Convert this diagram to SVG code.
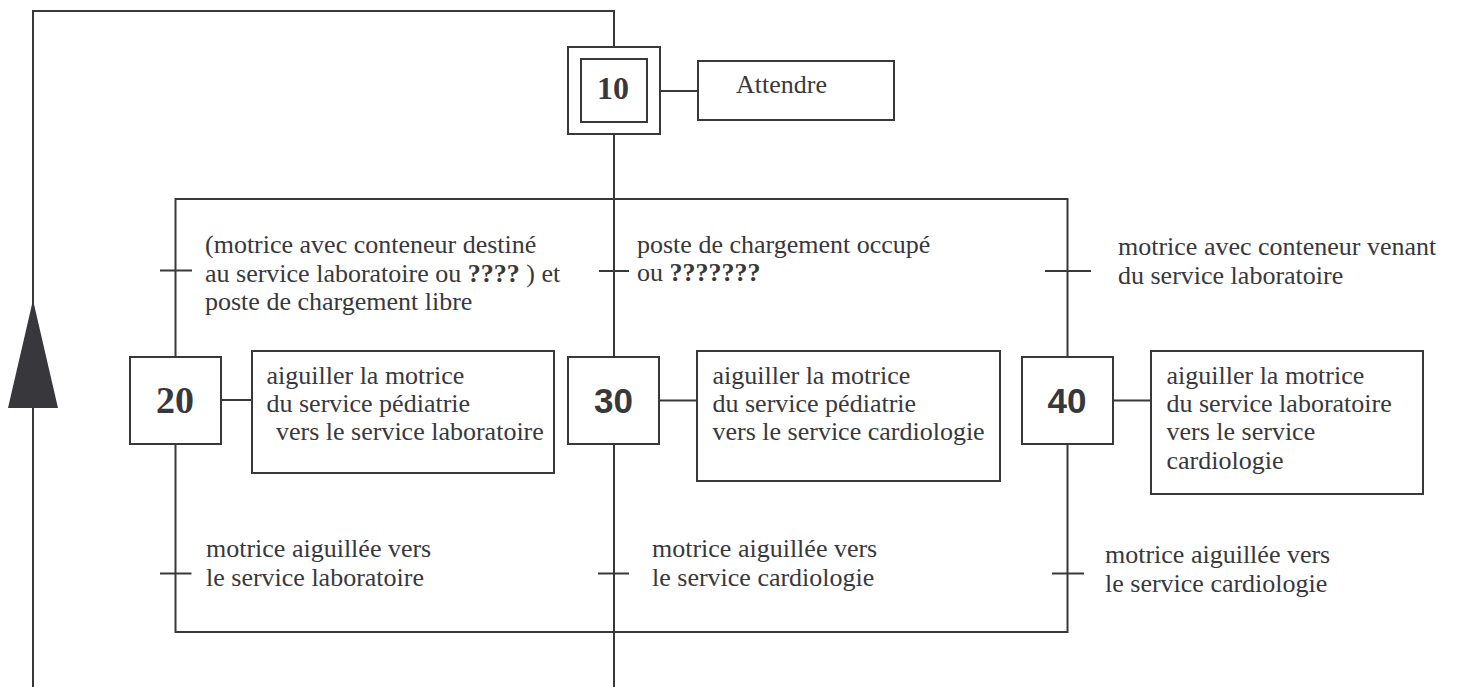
<svg xmlns="http://www.w3.org/2000/svg" width="1465" height="687" viewBox="0 0 1465 687">
<style>
.ln{stroke:#38383c;stroke-width:2;fill:none}
.bx{stroke:#38383c;stroke-width:2;fill:#fff}
.t{font-size:26px;fill:#38383c}
.b{font-weight:bold}
.ns{font-weight:bold;fill:#38383c;text-anchor:middle}
.nss{font-weight:bold;fill:#38383c;text-anchor:middle}
</style>
<rect width="1465" height="687" fill="#fff"/>
<g id="connectors">
  <polyline class="ln" points="33,687 33,11 614,11 614,47"/>
  <polygon points="33,300 8,408 58,408" fill="#38383c"/>
  <line class="ln" x1="614" y1="134" x2="614" y2="357"/>
  <line class="ln" x1="614" y1="444" x2="614" y2="687"/>
  <polyline class="ln" points="175.5,357 175.5,199 1067.5,199 1067.5,357"/>
  <polyline class="ln" points="175.5,444 175.5,632 1067.5,632 1067.5,444"/>
  <line class="ln" x1="660" y1="91" x2="698" y2="91"/>
  <line class="ln" x1="221" y1="400" x2="252" y2="400"/>
  <line class="ln" x1="659" y1="400.5" x2="697" y2="400.5"/>
  <line class="ln" x1="1113" y1="400.5" x2="1151" y2="400.5"/>
  <line class="ln" x1="160" y1="270.5" x2="192" y2="270.5"/>
  <line class="ln" x1="599" y1="271" x2="629" y2="271"/>
  <line class="ln" x1="1045" y1="271" x2="1091" y2="271"/>
  <line class="ln" x1="160" y1="573.5" x2="191.5" y2="573.5"/>
  <line class="ln" x1="598" y1="573.5" x2="629" y2="573.5"/>
  <line class="ln" x1="1052" y1="573.5" x2="1084" y2="573.5"/>
</g>
<g font-family="'Liberation Serif', 'Times New Roman', Times, serif">
<g id="step10">
  <rect class="bx" x="568" y="47" width="92" height="87"/>
  <rect class="bx" x="581" y="59" width="66" height="63"/>
  <text class="ns" x="613" y="99" font-size="32">10</text>
</g>
<g id="action10">
  <rect class="bx" x="698" y="61" width="196" height="59"/>
  <text class="t" x="736" y="93">Attendre</text>
</g>
<g id="transition-t1">
  <text class="t" x="205" y="252.5">(motrice avec conteneur destiné</text>
  <text class="t" x="205" y="281.5">au service laboratoire ou <tspan class="b">????</tspan> ) et</text>
  <text class="t" x="205" y="310">poste de chargement libre</text>
</g>
<g id="transition-t2">
  <text class="t" x="637" y="252.5">poste de chargement occupé</text>
  <text class="t" x="637" y="281">ou <tspan class="b">???????</tspan></text>
</g>
<g id="transition-t3">
  <text class="t" x="1118" y="255">motrice avec conteneur venant</text>
  <text class="t" x="1118" y="284">du service laboratoire</text>
</g>
<g id="step20">
  <rect class="bx" x="130" y="357" width="91" height="87"/>
  <text class="ns" x="175" y="413" font-size="38">20</text>
</g>
<g id="action20">
  <rect class="bx" x="252" y="351" width="302" height="122"/>
  <text class="t" x="266.5" y="383.5">aiguiller la motrice</text>
  <text class="t" x="266.5" y="412">du service pédiatrie</text>
  <text class="t" x="276" y="440">vers le service laboratoire</text>
</g>
<g id="action30">
  <rect class="bx" x="697" y="351" width="303" height="130"/>
  <text class="t" x="712.5" y="383.5">aiguiller la motrice</text>
  <text class="t" x="712.5" y="412">du service pédiatrie</text>
  <text class="t" x="712.5" y="440">vers le service cardiologie</text>
</g>
<g id="action40">
  <rect class="bx" x="1151" y="351" width="272" height="143"/>
  <text class="t" x="1166.5" y="383.5">aiguiller la motrice</text>
  <text class="t" x="1166.5" y="412">du service laboratoire</text>
  <text class="t" x="1166.5" y="440">vers le service</text>
  <text class="t" x="1166.5" y="468.5">cardiologie</text>
</g>
<g id="transition-t4">
  <text class="t" x="206" y="557">motrice aiguillée vers</text>
  <text class="t" x="206" y="585.5">le service laboratoire</text>
</g>
<g id="transition-t5">
  <text class="t" x="652" y="557">motrice aiguillée vers</text>
  <text class="t" x="652" y="585.5">le service cardiologie</text>
</g>
<g id="transition-t6">
  <text class="t" x="1105" y="563">motrice aiguillée vers</text>
  <text class="t" x="1105" y="592">le service cardiologie</text>
</g>
</g>
<g font-family="'Liberation Sans', Arial, sans-serif">
<g id="step30">
  <rect class="bx" x="568" y="357" width="91" height="87"/>
  <text class="nss" x="613.5" y="413" font-size="35">30</text>
</g>
<g id="step40">
  <rect class="bx" x="1022" y="357" width="91" height="87"/>
  <text class="nss" x="1067" y="413" font-size="35">40</text>
</g>
</g>
</svg>
